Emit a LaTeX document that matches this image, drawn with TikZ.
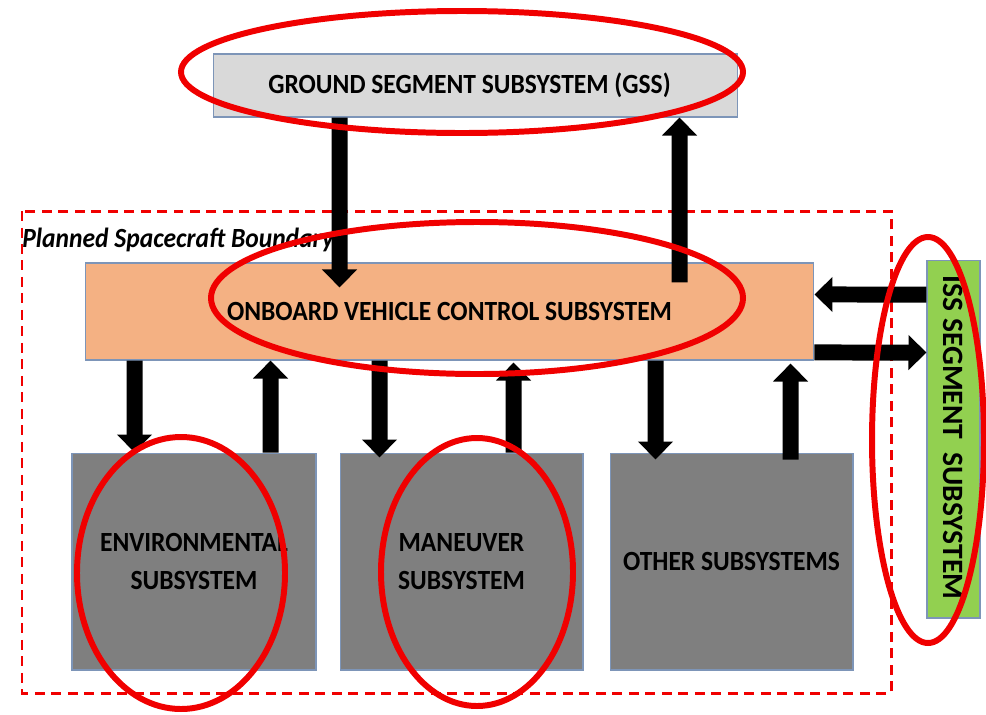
\documentclass[tikz,border=0pt]{standalone}
\usepackage{fontspec}
\setmainfont{Carlito}
\newfontfamily\narrowfont[FakeStretch=0.92]{Carlito}
\usetikzlibrary{arrows.meta,calc}
\definecolor{gssfill}{HTML}{D9D9D9}
\definecolor{ovcfill}{HTML}{F4B183}
\definecolor{issfill}{HTML}{92D050}
\definecolor{subfill}{HTML}{7F7F7F}
\definecolor{edge}{HTML}{7D95B8}
\definecolor{mark}{HTML}{F00000}
\begin{document}
\begin{tikzpicture}[x=0.02cm,y=-0.02cm,
  box/.style={draw=edge,line width=0.6pt,inner sep=0pt,align=center,
    font=\narrowfont\fontsize{15.8}{19}\selectfont\bfseries},
  blk/.style={line width=0.32cm,draw=black,
    -{Triangle[length=0.36cm,width=0.68cm]}},
  ring/.style={draw=mark,line width=3.4pt},
  boundary/.style={draw=mark,line width=1.7pt,dash pattern=on 0.2cm off 0.13cm}]
\useasboundingbox (0,0) rectangle (986,714);

% spacecraft boundary
\draw[boundary] (22,211) rectangle (891,693);
\node[anchor=west,inner sep=0pt,font=\narrowfont\fontsize{15.8}{19}\selectfont\bfseries\itshape]
  (blabel) at (22,240) {Planned Spacecraft Boundary};

% subsystem blocks
\node[box,fill=gssfill,minimum width=10.5cm,minimum height=1.26cm]
  (gss) at (475.5,85.5) {GROUND SEGMENT SUBSYSTEM (GSS)\hspace*{0.24cm}};
\node[box,fill=ovcfill,minimum width=14.58cm,minimum height=1.94cm]
  (ovc) at (449.5,311.5) {ONBOARD VEHICLE CONTROL SUBSYSTEM};
\node[box,fill=issfill,minimum width=1.06cm,minimum height=7.16cm]
  (iss) at (953.5,439) {};
\node[rotate=-90,inner sep=0pt,font=\fontsize{16.8}{19}\selectfont\bfseries]
  (isstext) at ($(iss.center)+(0,-1.5)$) {ISS SEGMENT\ \ SUBSYSTEM};
\node[box,fill=subfill,text=black,minimum width=4.88cm,minimum height=4.34cm]
  (env) at (194,561.5) {ENVIRONMENTAL\\[3pt]SUBSYSTEM};
\node[box,fill=subfill,text=black,minimum width=4.86cm,minimum height=4.34cm]
  (man) at (461.5,561.5) {MANEUVER\\[3pt]SUBSYSTEM};
\node[box,fill=subfill,text=black,minimum width=4.86cm,minimum height=4.34cm]
  (oth) at (731.5,561.5) {OTHER SUBSYSTEMS};

% data flows
\draw[blk] ($(gss.south west)+(127,0)$) -- ($(ovc.north west)+(255,25)$);
\draw[blk] ($(ovc.north west)+(595,20)$) -- ($(gss.south west)+(467,0)$);
\draw[blk] ($(iss.north west)+(0,35)$) -- ($(ovc.north east)+(0,32)$);
\draw[blk] ($(ovc.north east)+(0,90)$) -- ($(iss.north west)+(0,93)$);
\draw[blk] ($(ovc.south west)+(50,0)$) -- ($(env.north west)+(63,0)$);
\draw[blk] ($(env.north west)+(199,0)$) -- ($(ovc.south west)+(186,0)$);
\draw[blk] ($(ovc.south west)+(295,0)$) -- ($(man.north west)+(40,5)$);
\draw[blk] ($(man.north west)+(174,0)$) -- ($(ovc.south west)+(429,2)$);
\draw[blk] ($(ovc.south west)+(571,0)$) -- ($(oth.north west)+(46,7)$);
\draw[blk] ($(oth.north west)+(181,7)$) -- ($(ovc.south west)+(706,3)$);

% highlight rings
\draw[ring] (462,72) ellipse [x radius=281,y radius=61];
\draw[ring] (477,298) ellipse [x radius=266,y radius=76];
\draw[ring] (928,440) ellipse [x radius=56,y radius=203];
\draw[ring] (181,573) ellipse [x radius=104,y radius=136];
\draw[ring] (477,572) ellipse [x radius=96,y radius=134];
\end{tikzpicture}
\end{document}
